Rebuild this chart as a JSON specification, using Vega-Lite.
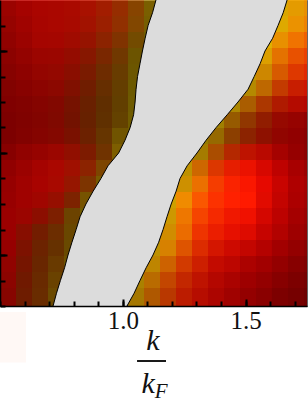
{"$schema":"https://vega.github.io/schema/vega-lite/v6.json","width":307,"height":306,"autosize":"none","padding":{"left":0,"top":0,"right":1,"bottom":96},"background":"white","view":{"fill":"#000000","stroke":"#666666"},"config":{"axis":{"grid":false,"title":null,"domainColor":"#000000","tickColor":"#000000","tickWidth":2,"domainWidth":1.5,"labelColor":"#111111"}},"datasets":{"cells":[
{"x":0.5326,"y":11.686,"h":0.02,"v":155},{"x":0.5977,"y":11.686,"h":0.02,"v":165},{"x":0.6629,"y":11.686,"h":0.03,"v":170},{"x":0.728,"y":11.686,"h":0.04,"v":170},{"x":0.7932,"y":11.686,"h":0.06,"v":170},{"x":0.8583,"y":11.686,"h":0.1,"v":168},{"x":0.9235,"y":11.686,"h":0.18,"v":162},{"x":0.9886,"y":11.686,"h":0.3,"v":150},{"x":1.0538,"y":11.686,"h":0.5,"v":135},{"x":1.1189,"y":11.686,"h":0.78,"v":122},{"x":1.6401,"y":11.686,"h":0.76,"v":218},{"x":1.7052,"y":11.686,"h":0.68,"v":228},{"x":1.7704,"y":11.686,"h":0.62,"v":232},
{"x":0.5326,"y":11.059,"h":0.02,"v":150},{"x":0.5977,"y":11.059,"h":0.02,"v":160},{"x":0.6629,"y":11.059,"h":0.03,"v":168},{"x":0.728,"y":11.059,"h":0.04,"v":170},{"x":0.7932,"y":11.059,"h":0.06,"v":168},{"x":0.8583,"y":11.059,"h":0.11,"v":162},{"x":0.9235,"y":11.059,"h":0.2,"v":155},{"x":0.9886,"y":11.059,"h":0.33,"v":145},{"x":1.0538,"y":11.059,"h":0.55,"v":130},{"x":1.1189,"y":11.059,"h":0.8,"v":118},{"x":1.6401,"y":11.059,"h":0.76,"v":222},{"x":1.7052,"y":11.059,"h":0.62,"v":235},{"x":1.7704,"y":11.059,"h":0.55,"v":238},
{"x":0.5326,"y":10.431,"h":0.01,"v":145},{"x":0.5977,"y":10.431,"h":0.02,"v":155},{"x":0.6629,"y":10.431,"h":0.03,"v":165},{"x":0.728,"y":10.431,"h":0.04,"v":165},{"x":0.7932,"y":10.431,"h":0.07,"v":160},{"x":0.8583,"y":10.431,"h":0.13,"v":150},{"x":0.9235,"y":10.431,"h":0.25,"v":140},{"x":0.9886,"y":10.431,"h":0.4,"v":128},{"x":1.0538,"y":10.431,"h":0.65,"v":115},{"x":1.1189,"y":10.431,"h":0.82,"v":112},{"x":1.5749,"y":10.431,"h":0.78,"v":225},{"x":1.6401,"y":10.431,"h":0.62,"v":232},{"x":1.7052,"y":10.431,"h":0.48,"v":240},{"x":1.7704,"y":10.431,"h":0.4,"v":240},
{"x":0.5326,"y":9.804,"h":0.01,"v":140},{"x":0.5977,"y":9.804,"h":0.02,"v":148},{"x":0.6629,"y":9.804,"h":0.03,"v":155},{"x":0.728,"y":9.804,"h":0.04,"v":155},{"x":0.7932,"y":9.804,"h":0.08,"v":148},{"x":0.8583,"y":9.804,"h":0.17,"v":135},{"x":0.9235,"y":9.804,"h":0.32,"v":122},{"x":0.9886,"y":9.804,"h":0.5,"v":112},{"x":1.0538,"y":9.804,"h":0.78,"v":108},{"x":1.5749,"y":9.804,"h":0.72,"v":220},{"x":1.6401,"y":9.804,"h":0.5,"v":228},{"x":1.7052,"y":9.804,"h":0.35,"v":232},{"x":1.7704,"y":9.804,"h":0.28,"v":235},
{"x":0.5326,"y":9.176,"h":0.01,"v":135},{"x":0.5977,"y":9.176,"h":0.01,"v":142},{"x":0.6629,"y":9.176,"h":0.03,"v":148},{"x":0.728,"y":9.176,"h":0.05,"v":148},{"x":0.7932,"y":9.176,"h":0.1,"v":138},{"x":0.8583,"y":9.176,"h":0.22,"v":122},{"x":0.9235,"y":9.176,"h":0.4,"v":110},{"x":0.9886,"y":9.176,"h":0.58,"v":104},{"x":1.0538,"y":9.176,"h":0.8,"v":108},{"x":1.5098,"y":9.176,"h":0.78,"v":195},{"x":1.5749,"y":9.176,"h":0.66,"v":205},{"x":1.6401,"y":9.176,"h":0.42,"v":215},{"x":1.7052,"y":9.176,"h":0.25,"v":222},{"x":1.7704,"y":9.176,"h":0.18,"v":225},
{"x":0.5326,"y":8.549,"h":0.01,"v":130},{"x":0.5977,"y":8.549,"h":0.01,"v":136},{"x":0.6629,"y":8.549,"h":0.03,"v":140},{"x":0.728,"y":8.549,"h":0.06,"v":140},{"x":0.7932,"y":8.549,"h":0.12,"v":128},{"x":0.8583,"y":8.549,"h":0.26,"v":112},{"x":0.9235,"y":8.549,"h":0.45,"v":102},{"x":0.9886,"y":8.549,"h":0.62,"v":100},{"x":1.0538,"y":8.549,"h":0.82,"v":108},{"x":1.5098,"y":8.549,"h":0.76,"v":180},{"x":1.5749,"y":8.549,"h":0.55,"v":190},{"x":1.6401,"y":8.549,"h":0.3,"v":195},{"x":1.7052,"y":8.549,"h":0.15,"v":200},{"x":1.7704,"y":8.549,"h":0.1,"v":205},
{"x":0.5326,"y":7.922,"h":0,"v":128},{"x":0.5977,"y":7.922,"h":0.01,"v":130},{"x":0.6629,"y":7.922,"h":0.03,"v":133},{"x":0.728,"y":7.922,"h":0.06,"v":130},{"x":0.7932,"y":7.922,"h":0.15,"v":118},{"x":0.8583,"y":7.922,"h":0.3,"v":105},{"x":0.9235,"y":7.922,"h":0.48,"v":96},{"x":0.9886,"y":7.922,"h":0.64,"v":98},{"x":1.0538,"y":7.922,"h":0.82,"v":110},{"x":1.4446,"y":7.922,"h":0.78,"v":172},{"x":1.5098,"y":7.922,"h":0.55,"v":170},{"x":1.5749,"y":7.922,"h":0.32,"v":172},{"x":1.6401,"y":7.922,"h":0.15,"v":175},{"x":1.7052,"y":7.922,"h":0.06,"v":180},{"x":1.7704,"y":7.922,"h":0.03,"v":180},
{"x":0.5326,"y":7.294,"h":0,"v":125},{"x":0.5977,"y":7.294,"h":0.01,"v":128},{"x":0.6629,"y":7.294,"h":0.03,"v":130},{"x":0.728,"y":7.294,"h":0.07,"v":128},{"x":0.7932,"y":7.294,"h":0.16,"v":115},{"x":0.8583,"y":7.294,"h":0.32,"v":103},{"x":0.9235,"y":7.294,"h":0.5,"v":96},{"x":0.9886,"y":7.294,"h":0.66,"v":100},{"x":1.0538,"y":7.294,"h":0.82,"v":112},{"x":1.3795,"y":7.294,"h":0.8,"v":160},{"x":1.4446,"y":7.294,"h":0.6,"v":150},{"x":1.5098,"y":7.294,"h":0.38,"v":145},{"x":1.5749,"y":7.294,"h":0.2,"v":145},{"x":1.6401,"y":7.294,"h":0.06,"v":150},{"x":1.7052,"y":7.294,"h":0.02,"v":150},{"x":1.7704,"y":7.294,"h":0,"v":145},
{"x":0.5326,"y":6.667,"h":0,"v":125},{"x":0.5977,"y":6.667,"h":0.01,"v":130},{"x":0.6629,"y":6.667,"h":0.03,"v":133},{"x":0.728,"y":6.667,"h":0.06,"v":132},{"x":0.7932,"y":6.667,"h":0.14,"v":122},{"x":0.8583,"y":6.667,"h":0.3,"v":108},{"x":0.9235,"y":6.667,"h":0.52,"v":102},{"x":0.9886,"y":6.667,"h":0.75,"v":112},{"x":1.0538,"y":6.667,"h":0.82,"v":118},{"x":1.3143,"y":6.667,"h":0.82,"v":150},{"x":1.3795,"y":6.667,"h":0.7,"v":150},{"x":1.4446,"y":6.667,"h":0.45,"v":140},{"x":1.5098,"y":6.667,"h":0.25,"v":140},{"x":1.5749,"y":6.667,"h":0.12,"v":142},{"x":1.6401,"y":6.667,"h":0.03,"v":145},{"x":1.7052,"y":6.667,"h":0,"v":145},{"x":1.7704,"y":6.667,"h":0,"v":138},
{"x":0.5326,"y":6.039,"h":0,"v":135},{"x":0.5977,"y":6.039,"h":0.01,"v":145},{"x":0.6629,"y":6.039,"h":0.02,"v":150},{"x":0.728,"y":6.039,"h":0.04,"v":155},{"x":0.7932,"y":6.039,"h":0.1,"v":145},{"x":0.8583,"y":6.039,"h":0.22,"v":125},{"x":0.9235,"y":6.039,"h":0.45,"v":112},{"x":0.9886,"y":6.039,"h":0.75,"v":125},{"x":1.3143,"y":6.039,"h":0.75,"v":165},{"x":1.3795,"y":6.039,"h":0.45,"v":170},{"x":1.4446,"y":6.039,"h":0.22,"v":180},{"x":1.5098,"y":6.039,"h":0.1,"v":190},{"x":1.5749,"y":6.039,"h":0.05,"v":185},{"x":1.6401,"y":6.039,"h":0.01,"v":165},{"x":1.7052,"y":6.039,"h":0,"v":150},{"x":1.7704,"y":6.039,"h":0,"v":140},
{"x":0.5326,"y":5.412,"h":0,"v":145},{"x":0.5977,"y":5.412,"h":0.01,"v":155},{"x":0.6629,"y":5.412,"h":0.02,"v":165},{"x":0.728,"y":5.412,"h":0.04,"v":170},{"x":0.7932,"y":5.412,"h":0.1,"v":160},{"x":0.8583,"y":5.412,"h":0.25,"v":140},{"x":0.9235,"y":5.412,"h":0.55,"v":125},{"x":0.9886,"y":5.412,"h":0.8,"v":125},{"x":1.2492,"y":5.412,"h":0.76,"v":190},{"x":1.3143,"y":5.412,"h":0.5,"v":205},{"x":1.3795,"y":5.412,"h":0.25,"v":220},{"x":1.4446,"y":5.412,"h":0.13,"v":230},{"x":1.5098,"y":5.412,"h":0.08,"v":235},{"x":1.5749,"y":5.412,"h":0.04,"v":215},{"x":1.6401,"y":5.412,"h":0.01,"v":190},{"x":1.7052,"y":5.412,"h":0,"v":168},{"x":1.7704,"y":5.412,"h":0,"v":155},
{"x":0.5326,"y":4.784,"h":0,"v":150},{"x":0.5977,"y":4.784,"h":0.01,"v":160},{"x":0.6629,"y":4.784,"h":0.02,"v":168},{"x":0.728,"y":4.784,"h":0.05,"v":168},{"x":0.7932,"y":4.784,"h":0.15,"v":150},{"x":0.8583,"y":4.784,"h":0.42,"v":125},{"x":0.9235,"y":4.784,"h":0.75,"v":120},{"x":1.2492,"y":4.784,"h":0.7,"v":205},{"x":1.3143,"y":4.784,"h":0.48,"v":235},{"x":1.3795,"y":4.784,"h":0.25,"v":245},{"x":1.4446,"y":4.784,"h":0.14,"v":250},{"x":1.5098,"y":4.784,"h":0.09,"v":250},{"x":1.5749,"y":4.784,"h":0.04,"v":230},{"x":1.6401,"y":4.784,"h":0.02,"v":200},{"x":1.7052,"y":4.784,"h":0,"v":175},{"x":1.7704,"y":4.784,"h":0,"v":165},
{"x":0.5326,"y":4.157,"h":0,"v":152},{"x":0.5977,"y":4.157,"h":0.01,"v":160},{"x":0.6629,"y":4.157,"h":0.04,"v":160},{"x":0.728,"y":4.157,"h":0.1,"v":150},{"x":0.7932,"y":4.157,"h":0.28,"v":125},{"x":0.8583,"y":4.157,"h":0.7,"v":118},{"x":1.184,"y":4.157,"h":0.78,"v":205},{"x":1.2492,"y":4.157,"h":0.58,"v":240},{"x":1.3143,"y":4.157,"h":0.35,"v":250},{"x":1.3795,"y":4.157,"h":0.2,"v":252},{"x":1.4446,"y":4.157,"h":0.13,"v":255},{"x":1.5098,"y":4.157,"h":0.1,"v":255},{"x":1.5749,"y":4.157,"h":0.05,"v":225},{"x":1.6401,"y":4.157,"h":0.02,"v":195},{"x":1.7052,"y":4.157,"h":0,"v":172},{"x":1.7704,"y":4.157,"h":0,"v":162},
{"x":0.5326,"y":3.529,"h":0,"v":155},{"x":0.5977,"y":3.529,"h":0.03,"v":155},{"x":0.6629,"y":3.529,"h":0.1,"v":140},{"x":0.728,"y":3.529,"h":0.25,"v":125},{"x":0.7932,"y":3.529,"h":0.62,"v":108},{"x":0.8583,"y":3.529,"h":0.8,"v":112},{"x":1.184,"y":3.529,"h":0.74,"v":205},{"x":1.2492,"y":3.529,"h":0.5,"v":238},{"x":1.3143,"y":3.529,"h":0.28,"v":245},{"x":1.3795,"y":3.529,"h":0.17,"v":245},{"x":1.4446,"y":3.529,"h":0.1,"v":240},{"x":1.5098,"y":3.529,"h":0.07,"v":240},{"x":1.5749,"y":3.529,"h":0.03,"v":212},{"x":1.6401,"y":3.529,"h":0.01,"v":188},{"x":1.7052,"y":3.529,"h":0,"v":165},{"x":1.7704,"y":3.529,"h":0,"v":155},
{"x":0.5326,"y":2.902,"h":0,"v":155},{"x":0.5977,"y":2.902,"h":0.1,"v":135},{"x":0.6629,"y":2.902,"h":0.25,"v":115},{"x":0.728,"y":2.902,"h":0.42,"v":108},{"x":0.7932,"y":2.902,"h":0.68,"v":105},{"x":1.184,"y":2.902,"h":0.68,"v":208},{"x":1.2492,"y":2.902,"h":0.46,"v":235},{"x":1.3143,"y":2.902,"h":0.22,"v":238},{"x":1.3795,"y":2.902,"h":0.13,"v":235},{"x":1.4446,"y":2.902,"h":0.07,"v":230},{"x":1.5098,"y":2.902,"h":0.05,"v":222},{"x":1.5749,"y":2.902,"h":0.02,"v":198},{"x":1.6401,"y":2.902,"h":0.01,"v":178},{"x":1.7052,"y":2.902,"h":0,"v":158},{"x":1.7704,"y":2.902,"h":0,"v":148},
{"x":0.5326,"y":2.275,"h":0,"v":150},{"x":0.5977,"y":2.275,"h":0.14,"v":125},{"x":0.6629,"y":2.275,"h":0.32,"v":108},{"x":0.728,"y":2.275,"h":0.48,"v":102},{"x":0.7932,"y":2.275,"h":0.7,"v":105},{"x":1.1189,"y":2.275,"h":0.76,"v":190},{"x":1.184,"y":2.275,"h":0.6,"v":215},{"x":1.2492,"y":2.275,"h":0.38,"v":222},{"x":1.3143,"y":2.275,"h":0.2,"v":220},{"x":1.3795,"y":2.275,"h":0.1,"v":212},{"x":1.4446,"y":2.275,"h":0.05,"v":205},{"x":1.5098,"y":2.275,"h":0.03,"v":195},{"x":1.5749,"y":2.275,"h":0.01,"v":180},{"x":1.6401,"y":2.275,"h":0,"v":162},{"x":1.7052,"y":2.275,"h":0,"v":148},{"x":1.7704,"y":2.275,"h":0,"v":138},
{"x":0.5326,"y":1.647,"h":0.02,"v":145},{"x":0.5977,"y":1.647,"h":0.18,"v":118},{"x":0.6629,"y":1.647,"h":0.36,"v":105},{"x":0.728,"y":1.647,"h":0.55,"v":105},{"x":0.7932,"y":1.647,"h":0.75,"v":108},{"x":1.1189,"y":1.647,"h":0.7,"v":190},{"x":1.184,"y":1.647,"h":0.48,"v":205},{"x":1.2492,"y":1.647,"h":0.28,"v":210},{"x":1.3143,"y":1.647,"h":0.15,"v":205},{"x":1.3795,"y":1.647,"h":0.06,"v":195},{"x":1.4446,"y":1.647,"h":0.03,"v":188},{"x":1.5098,"y":1.647,"h":0.01,"v":172},{"x":1.5749,"y":1.647,"h":0,"v":162},{"x":1.6401,"y":1.647,"h":0,"v":148},{"x":1.7052,"y":1.647,"h":0,"v":135},{"x":1.7704,"y":1.647,"h":0,"v":128},
{"x":0.5326,"y":1.02,"h":0.03,"v":140},{"x":0.5977,"y":1.02,"h":0.22,"v":112},{"x":0.6629,"y":1.02,"h":0.4,"v":105},{"x":0.728,"y":1.02,"h":0.62,"v":106},{"x":1.0538,"y":1.02,"h":0.76,"v":170},{"x":1.1189,"y":1.02,"h":0.58,"v":185},{"x":1.184,"y":1.02,"h":0.36,"v":195},{"x":1.2492,"y":1.02,"h":0.2,"v":195},{"x":1.3143,"y":1.02,"h":0.1,"v":190},{"x":1.3795,"y":1.02,"h":0.04,"v":180},{"x":1.4446,"y":1.02,"h":0.02,"v":170},{"x":1.5098,"y":1.02,"h":0,"v":158},{"x":1.5749,"y":1.02,"h":0,"v":148},{"x":1.6401,"y":1.02,"h":0,"v":135},{"x":1.7052,"y":1.02,"h":0,"v":125},{"x":1.7704,"y":1.02,"h":0,"v":118},
{"x":0.5326,"y":0.392,"h":0.04,"v":135},{"x":0.5977,"y":0.392,"h":0.25,"v":110},{"x":0.6629,"y":0.392,"h":0.42,"v":105},{"x":0.728,"y":0.392,"h":0.68,"v":107},{"x":1.0538,"y":0.392,"h":0.72,"v":165},{"x":1.1189,"y":0.392,"h":0.5,"v":175},{"x":1.184,"y":0.392,"h":0.3,"v":185},{"x":1.2492,"y":0.392,"h":0.15,"v":188},{"x":1.3143,"y":0.392,"h":0.07,"v":182},{"x":1.3795,"y":0.392,"h":0.03,"v":172},{"x":1.4446,"y":0.392,"h":0.01,"v":160},{"x":1.5098,"y":0.392,"h":0,"v":148},{"x":1.5749,"y":0.392,"h":0,"v":138},{"x":1.6401,"y":0.392,"h":0,"v":125},{"x":1.7052,"y":0.392,"h":0,"v":118},{"x":1.7704,"y":0.392,"h":0,"v":110},
{"x":0.5326,"y":-0.235,"h":0.04,"v":135},{"x":0.5977,"y":-0.235,"h":0.25,"v":110},{"x":0.6629,"y":-0.235,"h":0.42,"v":105},{"x":0.728,"y":-0.235,"h":0.68,"v":107},{"x":1.0538,"y":-0.235,"h":0.72,"v":165},{"x":1.1189,"y":-0.235,"h":0.5,"v":175},{"x":1.184,"y":-0.235,"h":0.3,"v":185},{"x":1.2492,"y":-0.235,"h":0.15,"v":188},{"x":1.3143,"y":-0.235,"h":0.07,"v":182},{"x":1.3795,"y":-0.235,"h":0.03,"v":172},{"x":1.4446,"y":-0.235,"h":0.01,"v":160},{"x":1.5098,"y":-0.235,"h":0,"v":148},{"x":1.5749,"y":-0.235,"h":0,"v":138},{"x":1.6401,"y":-0.235,"h":0,"v":125},{"x":1.7052,"y":-0.235,"h":0,"v":118},{"x":1.7704,"y":-0.235,"h":0,"v":110}
],"band":[
{"y":12,"l":1.135,"r":1.669},{"y":11.5,"l":1.121,"r":1.653},{"y":11,"l":1.103,"r":1.632},{"y":10.5,"l":1.091,"r":1.61},{"y":10,"l":1.08,"r":1.579},{"y":9.5,"l":1.07,"r":1.559},{"y":9,"l":1.06,"r":1.535},{"y":8.5,"l":1.054,"r":1.51},{"y":8,"l":1.05,"r":1.469},{"y":7.5,"l":1.044,"r":1.425},{"y":7,"l":1.03,"r":1.38},{"y":6.5,"l":1.009,"r":1.339},{"y":6,"l":0.983,"r":1.302},{"y":5.5,"l":0.94,"r":1.262},{"y":5,"l":0.911,"r":1.233},{"y":4.5,"l":0.879,"r":1.217},{"y":4,"l":0.85,"r":1.197},{"y":3.5,"l":0.826,"r":1.18},{"y":3,"l":0.81,"r":1.164},{"y":2.5,"l":0.793,"r":1.146},{"y":2,"l":0.777,"r":1.123},{"y":1.5,"l":0.763,"r":1.095},{"y":1,"l":0.746,"r":1.07},{"y":0.5,"l":0.73,"r":1.046},{"y":0,"l":0.716,"r":1.017}
]},
"data":{"values":[]},
"resolve":{"axis":{"x":"independent","y":"independent"}},
"layer":[
{"data":{"name":"cells"},"mark":{"type":"rect","width":16,"height":16,"clip":true},"encoding":{
"x":{"field":"x","type":"quantitative","scale":{"domain":[0.5,1.75],"nice":false,"zero":false},"axis":{"orient":"bottom","values":[0.5,0.6,0.7,0.8,0.9,1.0,1.1,1.2,1.3,1.4,1.5,1.6,1.7],"tickSize":-5,"labels":false,"domain":false,"zindex":1}},
"y":{"field":"y","type":"quantitative","scale":{"domain":[0,12],"nice":false,"zero":false},"axis":{"orient":"left","values":[0,1,2,3,4,5,6,7,8,9,10,11],"tickSize":-5,"labels":false,"domain":false,"zindex":1}},
"color":{"field":"h","type":"quantitative","scale":{"domain":[0,1],"range":["#ff0000","#ffff00"],"interpolate":"rgb"},"legend":null},
"opacity":{"field":"v","type":"quantitative","scale":{"domain":[0,255],"range":[0,1],"zero":true},"legend":null}}},
{"data":{"name":"band"},"mark":{"type":"area","orient":"horizontal","color":"#dcdcdc","clip":true},"encoding":{
"y":{"field":"y","type":"quantitative","scale":{"domain":[0,12],"nice":false,"zero":false},"axis":{"values":[2,6,10],"tickSize":-7,"labels":false,"domain":true,"orient":"left","zindex":1}},
"x":{"field":"l","type":"quantitative","scale":{"domain":[0.5,1.75],"nice":false,"zero":false},"axis":{"orient":"bottom","values":[1.0,1.5],"tickSize":-7,"labelPadding":29,"labelFont":"Liberation Serif","labelFontSize":25,"format":".1f","domain":true,"zindex":1,"labelBaseline":"alphabetic","labelOverlap":false,"labelFlush":false}},
"x2":{"field":"r"}}},
{"data":{"name":"band"},"mark":{"type":"line","color":"#000000","strokeWidth":1,"clip":true},"encoding":{
"x":{"field":"l","type":"quantitative","axis":null},"y":{"field":"y","type":"quantitative","axis":null},"order":{"field":"y"}}},
{"data":{"name":"band"},"mark":{"type":"line","color":"#000000","strokeWidth":1,"clip":true},"encoding":{
"x":{"field":"r","type":"quantitative","axis":null},"y":{"field":"y","type":"quantitative","axis":null},"order":{"field":"y"}}},
{"data":{"values":[{"a":0.5,"b":0.606,"c":-0.235,"d":-2.22}]},"mark":{"type":"rect","color":"#fff8f5"},"encoding":{"x":{"field":"a","type":"quantitative","axis":null},"x2":{"field":"b"},"y":{"field":"c","type":"quantitative","axis":null},"y2":{"field":"d"}}},
{"data":{"values":[{"a":1.058,"b":1.176,"c":-2.157}]},"mark":{"type":"rule","color":"#000000","strokeWidth":1.8},"encoding":{"x":{"field":"a","type":"quantitative","axis":null},"x2":{"field":"b"},"y":{"field":"c","type":"quantitative","axis":null}}},
{"data":{"values":[{"a":1.123,"c":-1.725,"t":"k"},{"a":1.103,"c":-3.412,"t":"k"}]},"mark":{"type":"text","font":"Liberation Serif","fontStyle":"italic","fontSize":30,"baseline":"alphabetic","align":"center","color":"#111111"},"encoding":{"x":{"field":"a","type":"quantitative","axis":null},"y":{"field":"c","type":"quantitative","axis":null},"text":{"field":"t"}}},
{"data":{"values":[{"a":1.156,"c":-3.608,"t":"F"}]},"mark":{"type":"text","font":"Liberation Serif","fontStyle":"italic","fontSize":21,"baseline":"alphabetic","align":"center","color":"#111111"},"encoding":{"x":{"field":"a","type":"quantitative","axis":null},"y":{"field":"c","type":"quantitative","axis":null},"text":{"field":"t"}}}
]}
